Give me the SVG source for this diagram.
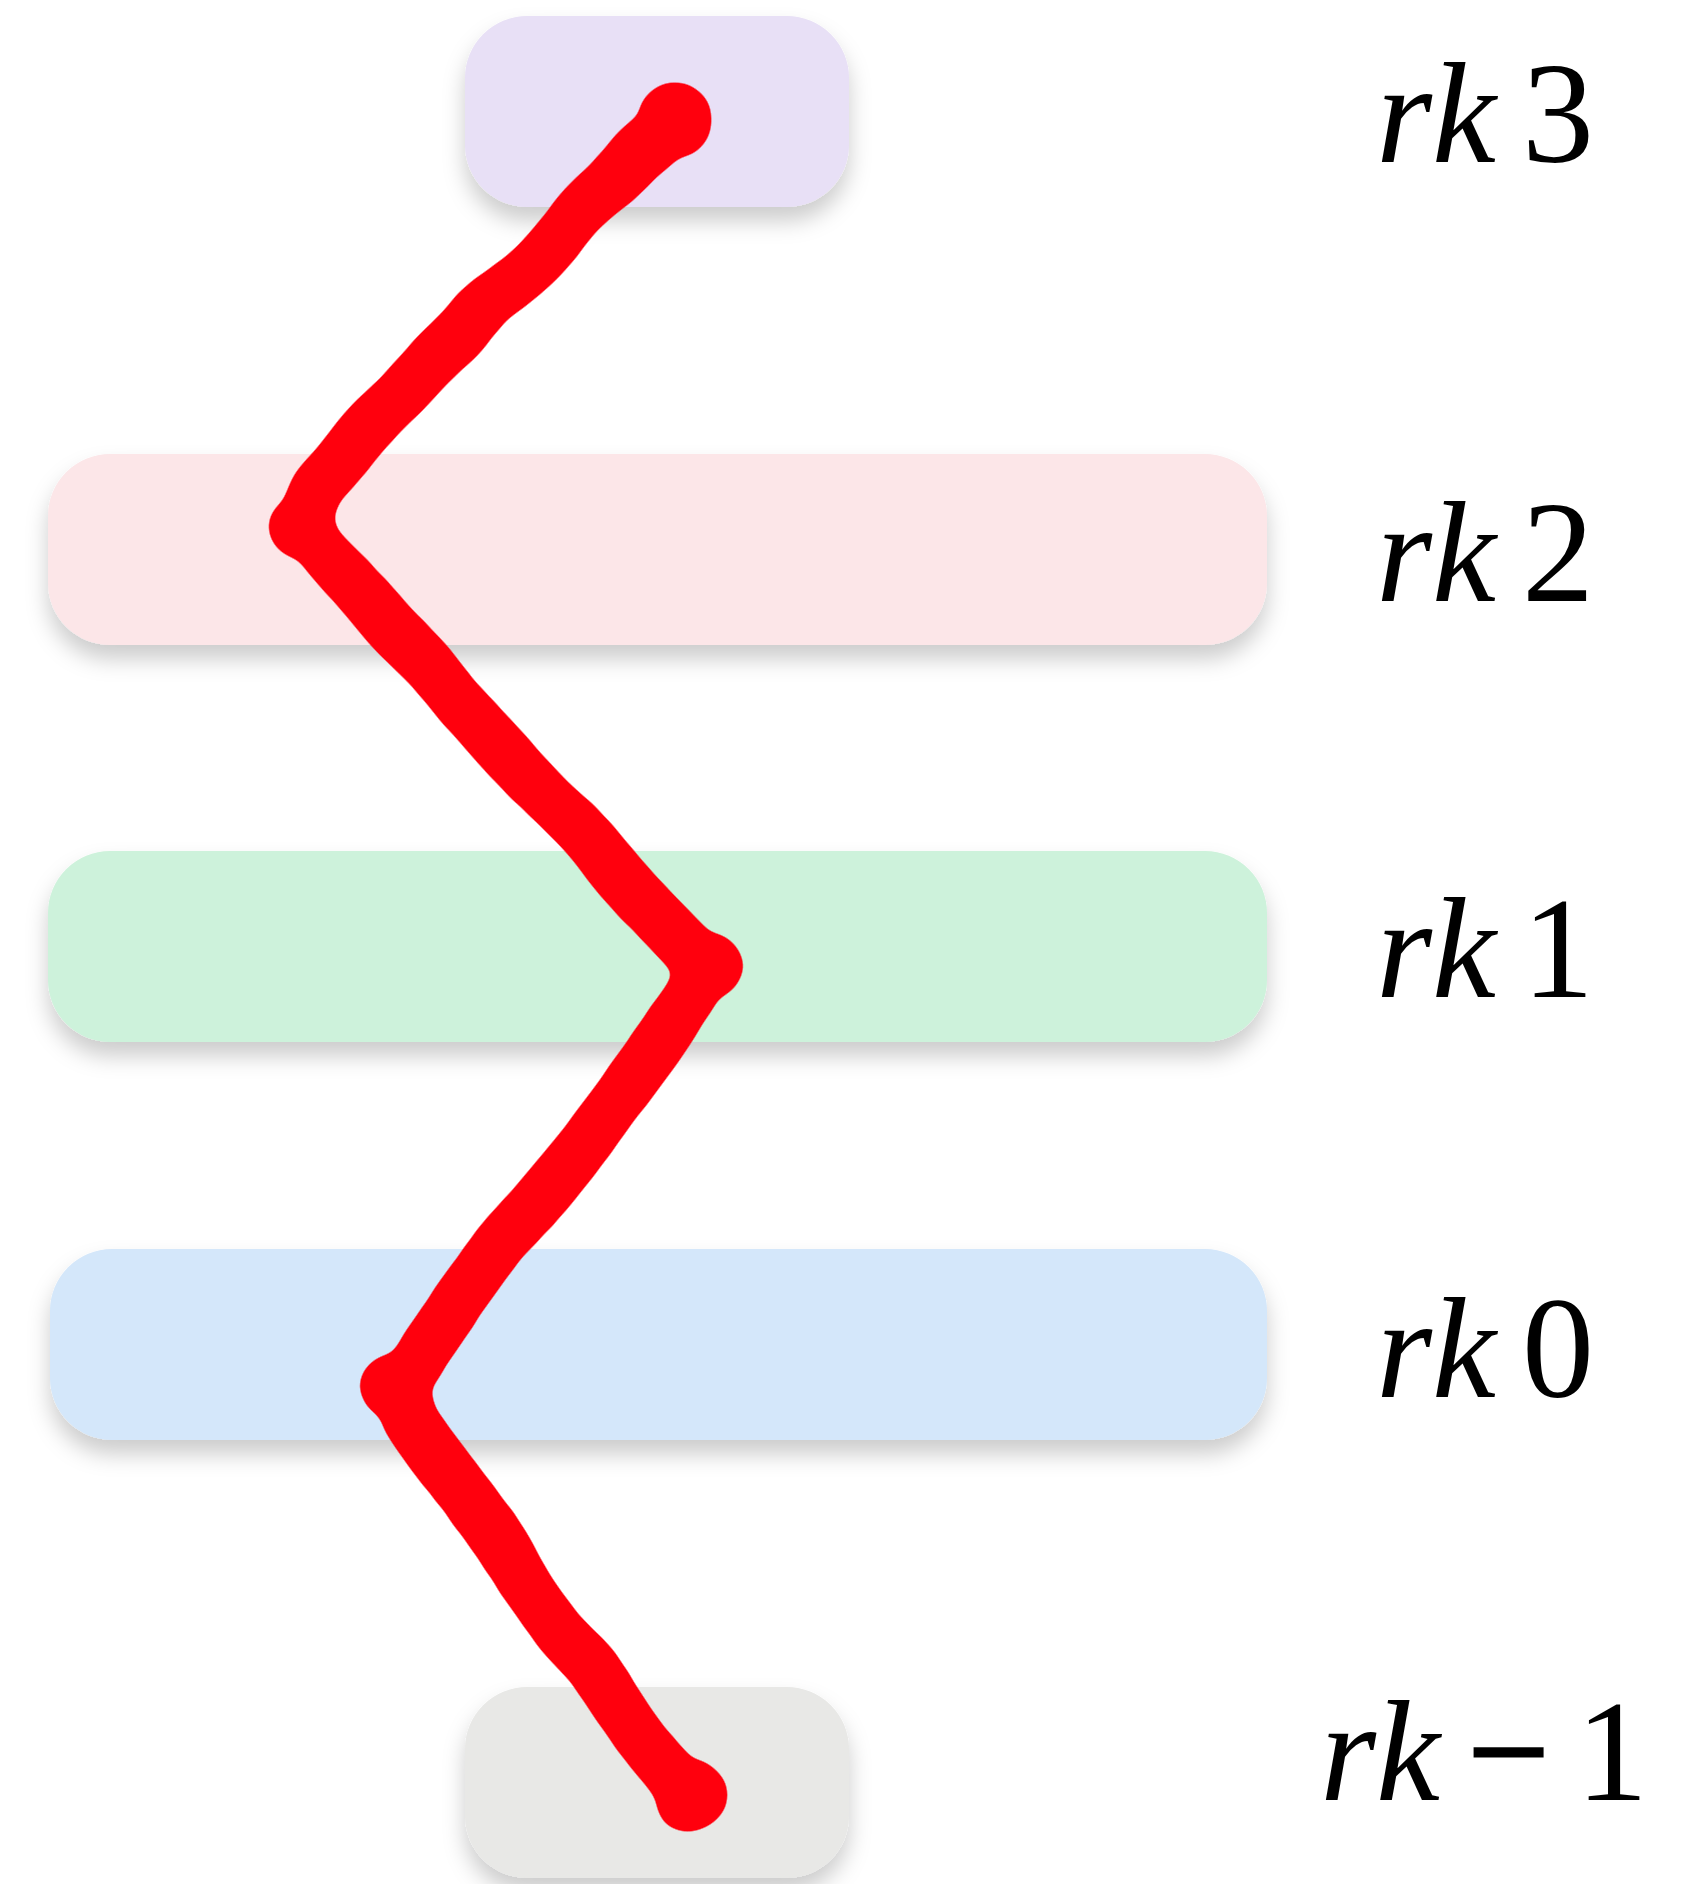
<svg xmlns="http://www.w3.org/2000/svg" width="1696" height="1884" viewBox="0 0 1696 1884">
<defs>
<filter id="sh" x="-10%" y="-30%" width="120%" height="170%">
<feDropShadow dx="0" dy="14" stdDeviation="11" flood-color="#000" flood-opacity="0.2"/>
</filter>
<filter id="goo" filterUnits="userSpaceOnUse" x="0" y="0" width="1696" height="1884">
<feTurbulence type="fractalNoise" baseFrequency="0.009" numOctaves="1" seed="5" result="n"/>
<feDisplacementMap in="SourceAlpha" in2="n" scale="16" xChannelSelector="R" yChannelSelector="G" result="d"/>
<feGaussianBlur in="d" stdDeviation="6" result="b"/>
<feComponentTransfer in="b" result="t"><feFuncA type="linear" slope="10" intercept="-4"/></feComponentTransfer>
<feFlood flood-color="#FF0010"/>
<feComposite in2="t" operator="in"/>
</filter>
<style>
.box{filter:url(#sh);}
.lbl{font-family:"Liberation Serif","Times New Roman",serif;font-size:144px;fill:#000;}
.it{font-style:italic;}
.blob{fill:#FF0010;}
</style>
</defs>
<rect width="1696" height="1884" fill="#fff"/>
<g id="node-rk3">
<rect class="box" x="465" y="16" width="384" height="191" rx="62" fill="#E8E0F6"/>
<text class="lbl" y="162"><tspan class="it" x="1376">rk</tspan><tspan x="1522">3</tspan></text>
</g>
<g id="node-rk2">
<rect class="box" x="48" y="454" width="1219" height="191" rx="62" fill="#FCE6E8"/>
<text class="lbl" y="601"><tspan class="it" x="1376">rk</tspan><tspan x="1522">2</tspan></text>
</g>
<g id="node-rk1">
<rect class="box" x="48" y="851" width="1219" height="191" rx="62" fill="#CDF2DB"/>
<text class="lbl" y="997"><tspan class="it" x="1376">rk</tspan><tspan x="1522">1</tspan></text>
</g>
<g id="node-rk0">
<rect class="box" x="50" y="1249" width="1217" height="191" rx="62" fill="#D4E7FA"/>
<text class="lbl" y="1397"><tspan class="it" x="1376">rk</tspan><tspan x="1522">0</tspan></text>
</g>
<g id="node-rkm1">
<rect class="box" x="465" y="1687" width="384" height="191" rx="62" fill="#E8E8E6"/>
<text class="lbl" y="1800"><tspan class="it" x="1320">rk</tspan><tspan x="1468" stroke="#000" stroke-width="3">−</tspan><tspan x="1576">1</tspan></text>
</g>
<g id="connectors" filter="url(#goo)">
<path fill="none" stroke="#FF0010" stroke-width="52" stroke-linecap="round" stroke-linejoin="round" d="M676,120 L640,152 L614,183 L582,212 L560,236 L522,274 L488,304 L462,333 L428,360 L404,386 L376,418 L346,454 L318,484 L302,524 L332,562 L366,598 L392,626 L428,664 L456,699 L489,736 L520,770 L548,800 L588,840 L614,868 L646,904 L678,940 L702,968 L690,996 L668,1030 L640,1068 L612,1106 L586,1140 L560,1172 L530,1212 L502,1244 L478,1278 L452,1314 L424,1346 L398,1384 L410,1420 L430,1448 L454,1482 L476,1514 L500,1546 L528,1590 L560,1632 L594,1668 L624,1710 L650,1746 L686,1794"/>
<circle class="blob" cx="676" cy="118" r="35"/>
<circle class="blob" cx="690" cy="1795" r="35"/>
<ellipse class="blob" cx="303" cy="528" rx="34" ry="33"/>
<ellipse class="blob" cx="706" cy="968" rx="33" ry="34"/>
<ellipse class="blob" cx="394" cy="1385" rx="34" ry="34"/>
</g>
</svg>
